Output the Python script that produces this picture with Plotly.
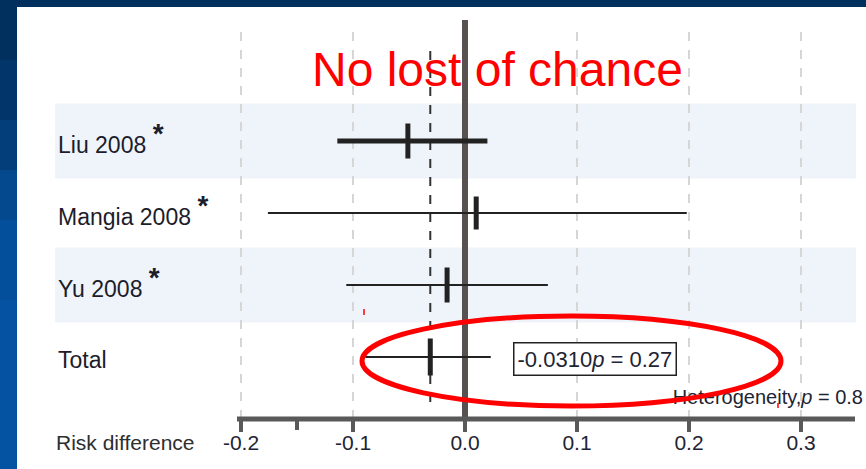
import plotly.graph_objects as go

W, H = 866, 469

# ---------------- data ----------------
studies = ["Liu 2008", "Mangia 2008", "Yu 2008", "Total"]
starred = [True, True, True, False]
estimates = [-0.051, 0.010, -0.016, -0.031]
ci_lower = [-0.114, -0.176, -0.106, -0.089]
ci_upper = [0.020, 0.198, 0.074, 0.023]
tick_vals = [-0.2, -0.1, 0.0, 0.1, 0.2, 0.3]
tick_text = ["-0.2", "-0.1", "0.0", "0.1", "0.2", "0.3"]
minor_tick_vals = [-0.15]
grid_vals = [-0.2, -0.1, 0.1, 0.2, 0.3]
pooled_text = "-0.0310"
pooled_p = "0.27"
heterogeneity_p = "0.8"
title_text = "No lost of chance"
axis_title = "Risk difference"

# ---------------- styles ----------------
ci_widths = [5, 2, 2, 2]
marker_lengths = [35, 33, 35, 37]
band_rows = [0, 2]
ink = "#222222"
axis_gray = "#595959"
label_font = "Liberation Sans, Arial, sans-serif"

# pixel geometry helpers
X0_PX, X_SCALE = 465.0, 1120.0          # pixel of value 0, pixels per unit
PLOT_TOP, PLOT_BOTTOM = 20.0, 419.0
ROW0_PX, ROW_STEP = 141.0, 72.0


def px2x(px):
    return (px - X0_PX) / X_SCALE


def pxpaper_x(px):
    return px / W


def pxpaper_y(py):
    return 1 - py / H


def px2row(py):
    return (py - ROW0_PX) / ROW_STEP


y_top = px2row(PLOT_TOP)
y_bot = px2row(PLOT_BOTTOM)

fig = go.Figure()

# CI lines and point markers
for i, name in enumerate(studies):
    fig.add_trace(go.Scatter(
        x=[ci_lower[i], ci_upper[i]], y=[i, i], mode="lines",
        line=dict(color=ink, width=ci_widths[i]), hoverinfo="skip", showlegend=False))
    fig.add_trace(go.Scatter(
        x=[estimates[i]], y=[i], mode="markers",
        marker=dict(symbol="line-ns", size=marker_lengths[i] / 1.4,
                    line=dict(color=ink, width=5)),
        hoverinfo="skip", showlegend=False))

# heterogeneity text (as a trace so the ellipse can sit over it)
fig.add_trace(go.Scatter(
    x=[px2x(863)], y=[px2row(399)], mode="text",
    text=[f"Heterogeneity,<i>p</i> = {heterogeneity_p}"],
    textposition="middle left",
    textfont=dict(family=label_font, size=20, color="#1e2433"),
    cliponaxis=False, hoverinfo="skip", showlegend=False))

shapes = []
# slide frame: top bar + left gradient strip
shapes.append(dict(type="rect", xref="paper", yref="paper", x0=0, x1=1,
                   y0=pxpaper_y(7), y1=1, fillcolor="#01305f", line_width=0, layer="below"))
grad = [(0, "#01305f"), (60, "#02366b"), (120, "#033e7a"), (170, "#04488e"),
        (220, "#044f9b"), (300, "#0452a1"), (400, "#0453a3"), (469, "#0453a3")]
for (a, ca), (b, _) in zip(grad[:-1], grad[1:]):
    shapes.append(dict(type="rect", xref="paper", yref="paper", x0=0, x1=pxpaper_x(17),
                       y0=pxpaper_y(b), y1=pxpaper_y(a), fillcolor=ca, line_width=0,
                       layer="below"))

# alternating row bands
for r in band_rows:
    shapes.append(dict(type="rect", xref="paper", yref="y", x0=pxpaper_x(55), x1=pxpaper_x(856),
                       y0=r - 0.52, y1=r + 0.52, fillcolor="#eff4fb", line_width=0, layer="below"))

# dashed grid lines
for v in grid_vals:
    shapes.append(dict(type="line", xref="x", yref="paper", x0=v, x1=v,
                       y0=pxpaper_y(PLOT_BOTTOM), y1=pxpaper_y(32),
                       line=dict(color="#d6d6d6", width=2, dash="dash"), layer="below"))

# pooled estimate dashed line
shapes.append(dict(type="line", xref="x", yref="paper", x0=estimates[-1], x1=estimates[-1],
                   y0=pxpaper_y(402), y1=pxpaper_y(48),
                   line=dict(color="#333333", width=2, dash="dash"), layer="below"))

# zero (no effect) line
shapes.append(dict(type="line", xref="x", yref="paper", x0=0, x1=0,
                   y0=pxpaper_y(PLOT_BOTTOM), y1=pxpaper_y(PLOT_TOP),
                   line=dict(color="#575250", width=6), layer="below"))

# axis line
shapes.append(dict(type="line", xref="x", yref="paper", x0=px2x(237), x1=px2x(855),
                   y0=pxpaper_y(PLOT_BOTTOM), y1=pxpaper_y(PLOT_BOTTOM),
                   line=dict(color=axis_gray, width=5), layer="above"))

# red ellipse and small red marks
shapes.append(dict(type="circle", xref="paper", yref="paper",
                   x0=pxpaper_x(362), x1=pxpaper_x(781), y0=pxpaper_y(406), y1=pxpaper_y(316),
                   line=dict(color="#ff0000", width=5), layer="above"))
for (mx, my0, my1) in [(364, 309, 315), (778, 403, 408)]:
    shapes.append(dict(type="line", xref="paper", yref="paper",
                       x0=pxpaper_x(mx), x1=pxpaper_x(mx), y0=pxpaper_y(my1), y1=pxpaper_y(my0),
                       line=dict(color="#ff0000", width=1.5), layer="above"))

annotations = []
for i, name in enumerate(studies):
    txt = name
    shift = -3
    if starred[i]:
        txt += " <sup><span style='font-size:28px'><b>*</b></span></sup>"
        shift = 3
    annotations.append(dict(xref="paper", yref="y", x=pxpaper_x(56), y=i, yshift=shift,
                            xanchor="left", yanchor="middle", showarrow=False, text=txt,
                            font=dict(family=label_font, size=23, color="#1c1c2a")))

annotations.append(dict(xref="paper", yref="paper", x=pxpaper_x(54), y=pxpaper_y(442),
                        xanchor="left", yanchor="middle", showarrow=False, text=axis_title,
                        font=dict(family=label_font, size=21, color="#2e2e2e")))

annotations.append(dict(xref="x", yref="y", x=px2x(594.5), y=3, yshift=-1.5,
                        xanchor="center", yanchor="middle", showarrow=False,
                        text=f"{pooled_text}<i>p</i> = {pooled_p}",
                        font=dict(family=label_font, size=22, color="#1e2433"),
                        bordercolor=ink, borderwidth=1.5, borderpad=3, bgcolor="white"))

annotations.append(dict(xref="paper", yref="paper", x=pxpaper_x(497.5), y=pxpaper_y(69),
                        xanchor="center", yanchor="middle", showarrow=False, text=title_text,
                        font=dict(family="Liberation Sans Narrow, Arial Narrow, Liberation Sans",
                                  size=48, color="#ff0000")))

fig.update_layout(
    width=W, height=H, margin=dict(l=0, r=0, t=0, b=0),
    paper_bgcolor="white", plot_bgcolor="rgba(0,0,0,0)",
    showlegend=False, shapes=shapes, annotations=annotations,
    xaxis=dict(domain=[0, 1], range=[px2x(0), px2x(W)], tickmode="array",
               tickvals=tick_vals, ticktext=tick_text, ticks="outside", ticklen=12,
               tickwidth=4, tickcolor=axis_gray, showline=False, showgrid=False,
               zeroline=False, fixedrange=True, ticklabelstandoff=-7,
               tickfont=dict(family=label_font, size=21, color="#1e2433"),
               minor=dict(tickmode="array", tickvals=minor_tick_vals, ticks="outside",
                          ticklen=10, tickwidth=4, tickcolor=axis_gray, showgrid=False)),
    yaxis=dict(domain=[pxpaper_y(PLOT_BOTTOM), pxpaper_y(PLOT_TOP)], range=[y_bot, y_top],
               visible=False, fixedrange=True),
)

fig.write_html("out.html", config={"displayModeBar": False},
               post_script="document.body.style.margin='0';document.body.style.overflow='hidden';")
